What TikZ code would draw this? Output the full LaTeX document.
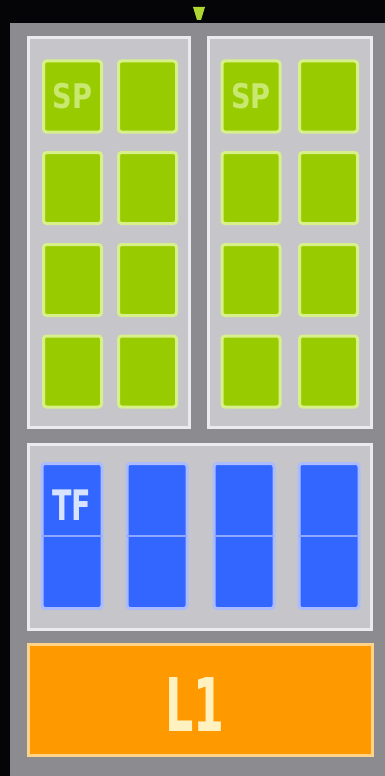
\documentclass[tikz,border=0pt]{standalone}
\usepackage{fontspec}
\usepackage{graphicx}
\setmainfont{DejaVu Sans}
\definecolor{bgblack}{HTML}{050508}
\definecolor{framegray}{HTML}{8C8C90}
\definecolor{panelfill}{HTML}{C6C6CA}
\definecolor{panelline}{HTML}{EAEAF0}
\definecolor{spgreen}{HTML}{99CC00}
\definecolor{spline}{HTML}{D8F08A}
\definecolor{sptext}{HTML}{C8E870}
\definecolor{tfblue}{HTML}{3366FF}
\definecolor{tfline}{HTML}{AABCFF}
\definecolor{tfmid}{HTML}{8EA8FF}
\definecolor{tftext}{HTML}{D8E4FF}
\definecolor{lone}{HTML}{FF9900}
\definecolor{loneline}{HTML}{FFD488}
\definecolor{lonetext}{HTML}{FFF2C0}
\tikzset{
  panel/.style={draw=panelline, fill=panelfill, line width=3pt, inner sep=0pt},
  spcell/.style={draw=spline, fill=spgreen, line width=3pt, rounded corners=3pt,
    minimum width=58pt, minimum height=71pt, inner sep=0pt},
  tfcell/.style={draw=tfline, fill=tfblue, line width=3pt, rounded corners=3pt,
    minimum width=60pt, minimum height=145pt, inner sep=0pt},
  lonebox/.style={draw=loneline, fill=lone, line width=3pt, inner sep=0pt,
    minimum width=344pt, minimum height=111pt},
  lbl/.style={inner sep=0pt}
}
\begin{document}
\begin{tikzpicture}[x=1pt,y=-1pt]
\useasboundingbox (0,0) rectangle (385,776);
\fill[bgblack] (0,0) rectangle (385,776);
\fill[framegray] (10,23) rectangle (385,776);
% top green stub
\fill[spgreen!80!white] (193,7) -- (205,7) -- (201,20) -- (197,20) -- cycle;
% panels
\node[panel, minimum width=161pt, minimum height=390pt] (pl) at (109,232.5) {};
\node[panel, minimum width=163pt, minimum height=390pt] (pr) at (290,232.5) {};
\node[panel, minimum width=343pt, minimum height=185pt] (pt) at (200,537) {};
% SP cells
\foreach \r/\y in {1/96.5,2/188,3/280,4/371.5}{
  \node[spcell] (la\r) at (72.5,\y) {};
  \node[spcell] (lb\r) at (147.5,\y) {};
  \node[spcell] (ra\r) at (251,\y) {};
  \node[spcell] (rb\r) at (328.5,\y) {};
}
\node[lbl, text=sptext, font=\bfseries\fontsize{34}{34}\selectfont] (sp1) at (la1) {\scalebox{0.8}[1]{SP}};
\node[lbl, text=sptext, font=\bfseries\fontsize{34}{34}\selectfont] (sp2) at (ra1) {\scalebox{0.8}[1]{SP}};
% TF cells
\foreach \i/\x in {1/72,2/157,3/244,4/329}{
  \node[tfcell] (tf\i) at (\x,536) {};
  \draw[tfmid, line width=2.5pt] ([xshift=1.5pt]tf\i.west) -- ([xshift=-1.5pt]tf\i.east);
}
\node[lbl, text=tftext, font=\bfseries\fontsize{42}{42}\selectfont] (tft) at (72,505) {\scalebox{0.68}[1]{TF}};
% L1
\node[lonebox] (l1) at (200.5,700) {};
\node[lbl, text=lonetext, font=\bfseries\fontsize{74}{74}\selectfont] (l1t) at (195,705) {\scalebox{0.6}[1]{L1}};
\end{tikzpicture}
\end{document}
